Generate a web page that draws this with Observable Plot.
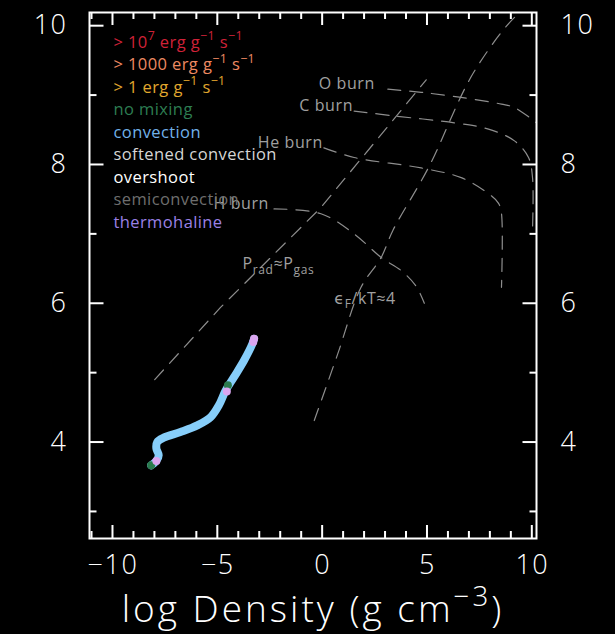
<!DOCTYPE html>
<html><head><meta charset="utf-8">
<script src="https://cdn.jsdelivr.net/npm/d3@7"></script>
<script src="https://cdn.jsdelivr.net/npm/@observablehq/plot@0.6"></script>
<style>
html,body{margin:0;padding:0;background:#000;}
#chart{width:615px;height:634px;}
</style></head><body><div id="chart"></div>
<script>
// ---- ticks ----
const xMajorTicks = [-10, -5, 0, 5, 10];
const xMinorTicks = [-11, -9, -8, -7, -6, -4, -3, -2, -1, 1, 2, 3, 4, 6, 7, 8, 9];
const yMajorTicks = [4, 6, 8, 10];
const yMinorTicks = [3, 5, 7, 9];

// ---- stellar track (log rho, log T) ----
const trackX = [-8.18, -7.93, -7.82, -7.93, -7.89, -7.58, -6.78, -5.98, -5.34, -4.95, -4.63, -4.23, -3.75, -3.35, -3.27];
const trackY = [3.665, 3.727, 3.81, 3.905, 4.0, 4.063, 4.144, 4.24, 4.36, 4.53, 4.74, 4.935, 5.175, 5.416, 5.488];

// mixing-type markers along the track
const mixX = [-8.18, -7.93, -4.52, -4.57, -3.31, -3.27];
const mixY = [3.665, 3.727, 4.82, 4.73, 5.44, 5.488];
const mixType = ["no mixing", "thermohaline", "no mixing", "thermohaline", "thermohaline", "thermohaline"];

// ---- reference lines ----
const pradX = [-8.01, -4.87, -0.08, 4.94];
const pradY = [4.90, 5.94, 7.38, 9.22];
const degenX = [-0.40, 0.72, 1.83, 2.79, 3.35, 5.04, 7.25, 9.41, 10.2];
const degenY = [4.31, 5.27, 6.23, 6.66, 7.05, 7.95, 9.35, 10.19, 10.3];
const hBurnX = [-2.32, -0.08, 1.50, 2.79, 3.75, 4.45, 4.85];
const hBurnY = [7.36, 7.29, 7.00, 6.66, 6.47, 6.25, 6.00];
const heBurnX = [0.06, 1.50, 4.70, 6.61, 7.91, 8.39, 8.53, 8.53];
const heBurnY = [8.24, 8.10, 7.95, 7.81, 7.58, 7.44, 7.29, 6.23];
const cBurnX = [1.50, 3.41, 6.28, 7.91, 9.15, 9.82, 10.01, 10.01];
const cBurnY = [8.77, 8.70, 8.60, 8.51, 8.34, 8.10, 7.81, 7.07];
const oBurnX = [3.11, 4.70, 6.52, 8.53, 9.15, 10.2];
const oBurnY = [9.085, 9.04, 8.97, 8.87, 8.82, 8.60];

const burnLabels = ["H burn", "He burn", "C burn", "O burn"];
const burnLabelGap = [-5, -1, -1, -13];
const curveLabels = ["P_{rad}≈P_{gas}", "ϵ_{F}/kT≈4"];
const curveLabelX = [-2.11, 2.02];
const curveLabelY = [6.57, 6.07];

// ---- legend ----
const legendLabels = [
  "> 10^{7} erg g^{−1} s^{−1}",
  "> 1000 erg g^{−1} s^{−1}",
  "> 1 erg g^{−1} s^{−1}",
  "no mixing",
  "convection",
  "softened convection",
  "overshoot",
  "semiconvection",
  "thermohaline"
];
const legendColors = ["#d02238", "#ee8a62", "#e2a82e", "#2d7d52", "#72b2ea", "#d6d6d6", "#ffffff", "#6e6e6e", "#9a80e6"];

const mixColor = {"no mixing": "#2a7a4e", "thermohaline": "#dba6f0"};
const trackColor = "#87cefa";
const refColor = "#8e8e8e";
const labelGray = "#a0a0a0";

const pts = (xs, ys) => xs.map((x, i) => [x, ys[i]]);
const burnLines = [pts(hBurnX, hBurnY), pts(heBurnX, heBurnY), pts(cBurnX, cBurnY), pts(oBurnX, oBurnY)];
const fmt = d => d < 0 ? "−" + Math.abs(d) : String(d);
const dash = "13,9";

const W = 615, H = 634, mL = 89, mR = 79, mT = 12, mB = 96;
const xDomain = [-11.12, 10.2], yDomain = [2.61, 10.19];
const innerW = W - mL - mR, innerH = H - mT - mB;
const pxX = innerW / (xDomain[1] - xDomain[0]);  // pixels per x unit
const pxY = innerH / (yDomain[1] - yDomain[0]);  // pixels per y unit
const majLen = 13, minLen = 7, tickW = 2;
const tickStyle = {stroke: "#ffffff", strokeWidth: tickW};

// inward ticks: x ticks as thin filled rects, y ticks as short links
const xTickMarks = (ticks, len) => [
  Plot.rect(ticks, {x1: d => d - tickW / 2 / pxX, x2: d => d + tickW / 2 / pxX,
    y1: () => yDomain[0], y2: () => yDomain[0] + len / pxY, fill: "#ffffff", inset: 0}),
  Plot.rect(ticks, {x1: d => d - tickW / 2 / pxX, x2: d => d + tickW / 2 / pxX,
    y1: () => yDomain[1] - len / pxY, y2: () => yDomain[1], fill: "#ffffff", inset: 0})
];
const yTickMarks = (ticks, len) => [
  Plot.link(ticks, {y1: d => d, y2: d => d, x1: () => xDomain[0], x2: () => xDomain[0] + len / pxX, ...tickStyle}),
  Plot.link(ticks, {y1: d => d, y2: d => d, x1: () => xDomain[1], x2: () => xDomain[1] - len / pxX, ...tickStyle})
];

const marks = [
  // reference lines
  Plot.line(pts(pradX, pradY), {stroke: refColor, strokeWidth: 1.2, strokeDasharray: dash, clip: true}),
  Plot.line(pts(degenX, degenY), {stroke: refColor, strokeWidth: 1.2, strokeDasharray: dash, curve: "catmull-rom", clip: true}),
  ...burnLines.map(l => Plot.line(l, {stroke: refColor, strokeWidth: 1.2, strokeDasharray: dash, curve: "catmull-rom", clip: true})),
  // labels
  ...burnLines.map((l, i) => Plot.text([{x: l[0][0], y: l[0][1], t: burnLabels[i]}],
    {x: "x", y: "y", text: "t", textAnchor: "end", dx: burnLabelGap[i], dy: -5, fill: labelGray, fontSize: 16, fontWeight: 400, className: "sp08"})),
  Plot.text(curveLabels.map((t, i) => ({x: curveLabelX[i], y: curveLabelY[i], t})),
    {x: "x", y: "y", text: "t", textAnchor: "middle", fill: labelGray, fontSize: 16, fontWeight: 400, className: "sp08"}),
  // track
  Plot.line(pts(trackX, trackY), {stroke: trackColor, strokeWidth: 8, strokeLinecap: "round", strokeLinejoin: "round", curve: "catmull-rom"}),
  Plot.dot(mixX.map((x, i) => ({x, y: mixY[i], type: mixType[i]})),
    {x: "x", y: "y", r: 4, fill: d => mixColor[d.type], stroke: null}),
  // legend
  ...legendLabels.map((t, i) => Plot.text([t], {
    frameAnchor: "top-left", text: d => d, textAnchor: "start", lineAnchor: "middle",
    dx: 24, dy: 30 + 22.5 * i, fill: legendColors[i], fontSize: 16.5, fontWeight: 400, className: "sp06"
  })),
  // frame and ticks
  Plot.frame({stroke: "white", strokeWidth: 2}),
  ...xTickMarks(xMajorTicks, majLen),
  ...xTickMarks(xMinorTicks, minLen),
  ...yTickMarks(yMajorTicks, majLen + 1),
  ...yTickMarks(yMinorTicks, minLen),
  // tick labels
  Plot.axisX({ticks: xMajorTicks, anchor: "bottom", tickSize: 0, tickPadding: 16, tickFormat: fmt, label: null, fontSize: 27, fill: "#ffffff", className: "sp1"}),
  Plot.axisY({ticks: yMajorTicks, anchor: "left", tickSize: 0, tickPadding: 22, tickFormat: fmt, label: null, fontSize: 27, fill: "#ffffff", className: "sp1"}),
  Plot.axisY({ticks: yMajorTicks, anchor: "right", tickSize: 0, tickPadding: 24, tickFormat: fmt, label: null, fontSize: 27, fill: "#ffffff", className: "sp1"}),
  // axis title
  Plot.text(["log Density (g cm^{−3})"], {frameAnchor: "bottom", text: d => d, lineAnchor: "middle", dy: 72, fill: "#ffffff", fontSize: 37, className: "sp3"})
];

const chart = Plot.plot({
  width: W, height: H,
  marginLeft: mL, marginRight: mR, marginTop: mT, marginBottom: mB,
  x: {domain: xDomain},
  y: {domain: yDomain},
  style: {background: "black", color: "white", fontFamily: "'Open Sans', 'DejaVu Sans', sans-serif", fontWeight: 300, overflow: "visible"},
  marks
});
document.getElementById("chart").appendChild(chart);

const spacing = {sp06: "0.4px", sp08: "0.6px", sp1: "1.5px", sp3: "3px"};
for (const [cls, v] of Object.entries(spacing)) {
  chart.querySelectorAll("g." + cls).forEach(g => g.style.letterSpacing = v);
}

// convert ^{...} / _{...} markup into raised/lowered tspans
function richify(svg) {
  svg.querySelectorAll("text").forEach(t => {
    const s = t.textContent;
    if (!/[\^_]\{/.test(s) || t.querySelector("tspan")) return;
    const fs = parseFloat(getComputedStyle(t).fontSize);
    const parts = [];
    const re = /([\^_])\{([^}]*)\}/g;
    let last = 0, m;
    while ((m = re.exec(s))) {
      if (m.index > last) parts.push({t: s.slice(last, m.index), k: ""});
      parts.push({t: m[2], k: m[1]});
      last = re.lastIndex;
    }
    if (last < s.length) parts.push({t: s.slice(last), k: ""});
    while (t.firstChild) t.removeChild(t.firstChild);
    let cur = 0;
    for (const p of parts) {
      const ts = document.createElementNS("http://www.w3.org/2000/svg", "tspan");
      const target = p.k === "^" ? -0.45 * fs : p.k === "_" ? 0.3 * fs : 0;
      if (target - cur !== 0) ts.setAttribute("dy", target - cur);
      cur = target;
      if (p.k) ts.setAttribute("font-size", 0.75 * fs);
      ts.textContent = p.t;
      t.appendChild(ts);
    }
  });
}
richify(chart);
</script>
</body></html>
